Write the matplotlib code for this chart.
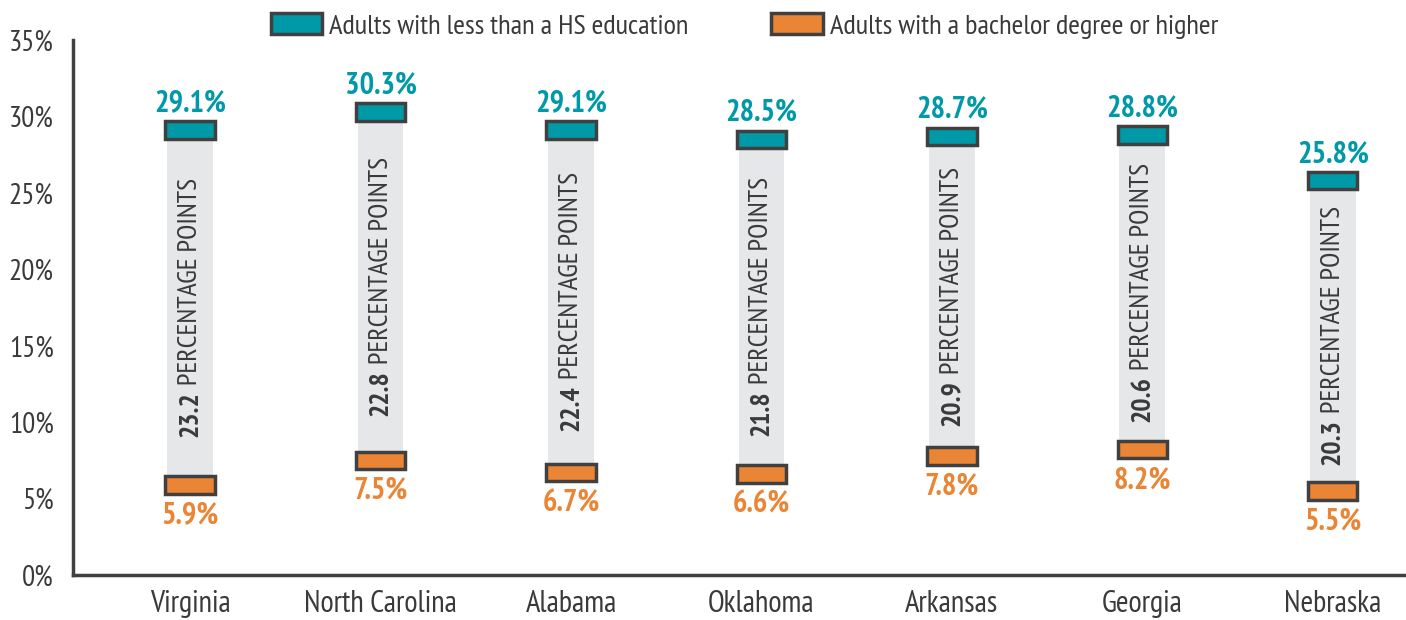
import matplotlib
matplotlib.use("Agg")
import matplotlib.pyplot as plt
from matplotlib.patches import Rectangle
from matplotlib.ticker import FuncFormatter

plt.rcParams['font.family'] = ['PT Sans Narrow', 'Roboto Condensed', 'Liberation Sans', 'DejaVu Sans']

states = ['Virginia', 'North Carolina', 'Alabama', 'Oklahoma', 'Arkansas', 'Georgia', 'Nebraska']
less_hs = [29.1, 30.3, 29.1, 28.5, 28.7, 28.8, 25.8]
bachelor = [5.9, 7.5, 6.7, 6.6, 7.8, 8.2, 5.5]
gap_pts = ['23.2', '22.8', '22.4', '21.8', '20.9', '20.6', '20.3']

teal = '#0099a7'
orange = '#e98534'
edge = '#404040'
gray = '#e6e7e8'
dark = '#3a3a3a'

fig = plt.figure(figsize=(14.06, 6.2), dpi=100)
ax = fig.add_axes([0.052, 0.0726, 0.948, 0.8629])

x = list(range(len(states)))
ax.set_xlim(-0.615, 6.385)
ax.set_ylim(0, 35)

# gray span between the two markers
ax.bar(x, [h - b for h, b in zip(less_hs, bachelor)], bottom=bachelor,
       width=0.24, color=gray, zorder=1)

box_w = 0.26
box_h = 1.15
for i in x:
    for val, col in ((less_hs[i], teal), (bachelor[i], orange)):
        ax.add_patch(Rectangle((i - box_w / 2, val - box_h / 2), box_w, box_h,
                               facecolor=col, edgecolor=edge, lw=2.5, zorder=3))
    ax.annotate(f'{less_hs[i]}%', (i, less_hs[i]), xytext=(0, 9), textcoords='offset points',
                ha='center', va='bottom', color=teal, fontsize=22, fontweight='bold')
    ax.annotate(f'{bachelor[i]}%', (i, bachelor[i]), xytext=(0, -12), textcoords='offset points',
                ha='center', va='top', color=orange, fontsize=22, fontweight='bold')

# vertical "xx.x PERCENTAGE POINTS" text, number in bold
fig.canvas.draw()
r = fig.canvas.get_renderer()
for i in x:
    mid = (less_hs[i] + bachelor[i]) / 2
    t1 = ax.annotate(gap_pts[i], (i, mid), xytext=(0, 0), textcoords='offset pixels',
                     rotation=90, ha='center', va='bottom', fontsize=20,
                     fontweight='bold', color=dark, zorder=4)
    t2 = ax.annotate(' PERCENTAGE POINTS', (i, mid), xytext=(0, 0), textcoords='offset pixels',
                     rotation=90, ha='center', va='bottom', fontsize=20,
                     color=dark, zorder=4)
    h1 = t1.get_window_extent(r).height
    h2 = t2.get_window_extent(r).height
    tot = h1 + h2
    t1.xyann = (0, -tot / 2)
    t2.xyann = (0, -tot / 2 + h1)

ax.set_xticks(x)
ax.set_xticklabels(states, fontsize=22, color=dark)
ax.set_yticks(range(0, 36, 5))
ax.yaxis.set_major_formatter(FuncFormatter(lambda v, p: f'{v:.0f}%'))
ax.tick_params(axis='y', length=0, labelsize=21, labelcolor=dark, pad=14)
ax.tick_params(axis='x', length=0, pad=11)

for s in ['top', 'right']:
    ax.spines[s].set_visible(False)
for s in ['left', 'bottom']:
    ax.spines[s].set_color(edge)
    ax.spines[s].set_linewidth(2.5)

handles = [Rectangle((0, 0), 1, 1, facecolor=teal, edgecolor=edge, lw=2.5),
           Rectangle((0, 0), 1, 1, facecolor=orange, edgecolor=edge, lw=2.5)]
fig.legend(handles, ['Adults with less than a HS education', 'Adults with a bachelor degree or higher'],
           loc='center', bbox_to_anchor=(0.5295, 0.958), ncol=2, frameon=False,
           fontsize=20.5, handlelength=1.8, handleheight=0.75, handletextpad=0.25,
           columnspacing=2.9, labelcolor=dark)

fig.savefig('out.png', dpi=100)
